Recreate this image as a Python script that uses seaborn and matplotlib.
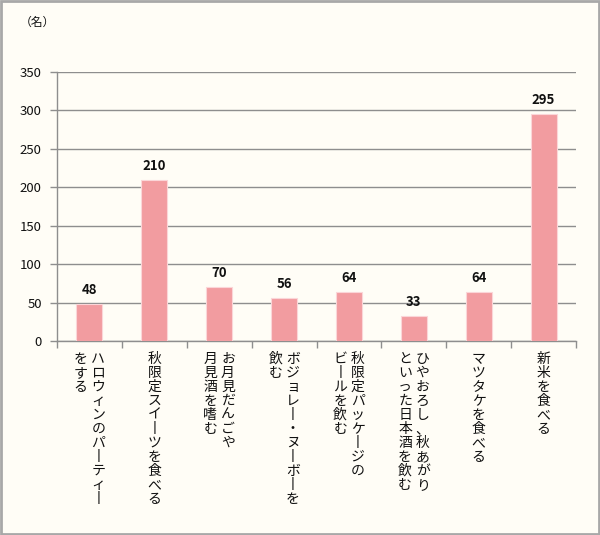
import matplotlib
matplotlib.use("Agg")
import matplotlib.pyplot as plt
import matplotlib.transforms as mtransforms
import seaborn as sns
import pandas as pd

# data
labels = [
    ["ハロウィンのパーティー", "をする"],
    ["秋限定スイーツを食べる"],
    ["お月見だんごや", "月見酒を嗜む"],
    ["ボジョレー・ヌーボーを", "飲む"],
    ["秋限定パッケージの", "ビールを飲む"],
    ["ひやおろし、秋あがり", "といった日本酒を飲む"],
    ["マツタケを食べる"],
    ["新米を食べる"],
]
values = [48, 210, 70, 56, 64, 33, 64, 295]
yticks = [0, 50, 100, 150, 200, 250, 300, 350]

sns.set_theme(style="white")
plt.rcParams['font.family'] = ['Noto Sans CJK JP', 'DejaVu Sans']

bg = "#FFFDF6"
bar_col = "#F29CA0"
grid_col = "#8E8E8E"

df = pd.DataFrame({"cat": [str(i) for i in range(len(values))], "val": values})

fig = plt.figure(figsize=(6, 5.35), dpi=100, facecolor=bg)
ax = fig.add_axes([0.095, 0.3626, 0.865, 0.5028])
ax.set_facecolor(bg)

sns.barplot(data=df, x="cat", y="val", color=bar_col, width=0.4,
            edgecolor="#FBD6D8", linewidth=0.8, saturation=1, ax=ax, zorder=3)

ax.set_ylim(0, 350)
ax.set_xlim(-0.5, len(values) - 0.5)
ax.set_yticks(yticks)
ax.set_yticklabels([str(v) for v in yticks], fontsize=9.5, color="#111111")
ax.yaxis.grid(True, color=grid_col, linewidth=1, zorder=0)
ax.set_axisbelow(True)
ax.set_xlabel("")
ax.set_ylabel("")

for s in ["top", "right"]:
    ax.spines[s].set_visible(False)
for s in ["left", "bottom"]:
    ax.spines[s].set_color(grid_col)
    ax.spines[s].set_linewidth(1)

ax.tick_params(axis="y", left=True, length=5, width=1, color=grid_col, pad=6)
# category boundary ticks on x
ax.set_xticks([i - 0.5 for i in range(len(values) + 1)])
ax.set_xticklabels([])
ax.tick_params(axis="x", bottom=True, length=5, width=1, color=grid_col)

for i, v in enumerate(values):
    ax.text(i, v + 9, str(v), ha="center", va="bottom", fontsize=9.5,
            fontweight="bold", color="#111111")

# vertical (tategaki) category labels, first column on the right
trans = mtransforms.blended_transform_factory(ax.transData, ax.transAxes)
col_step = 0.27
for i, cols in enumerate(labels):
    n = len(cols)
    for j, col in enumerate(cols):
        off = ((n - 1) / 2 - j) * col_step
        txt = "\n".join(ch if ch != "ー" else "丨" for ch in col)
        ax.text(i + off, -0.04, txt, transform=trans, ha="center", va="top",
                fontsize=10, linespacing=1.0, color="#111111")

fig.text(0.033, 0.958, "（名）", fontsize=8.5, ha="left", va="center", color="#111111")

# grey frame around the whole picture
fig.patches.append(plt.Rectangle((0.002, 0.002), 0.996, 0.996, transform=fig.transFigure,
                                 fill=False, edgecolor="#A8A8A8", linewidth=2))

fig.savefig("out.png", dpi=100, facecolor=bg)
